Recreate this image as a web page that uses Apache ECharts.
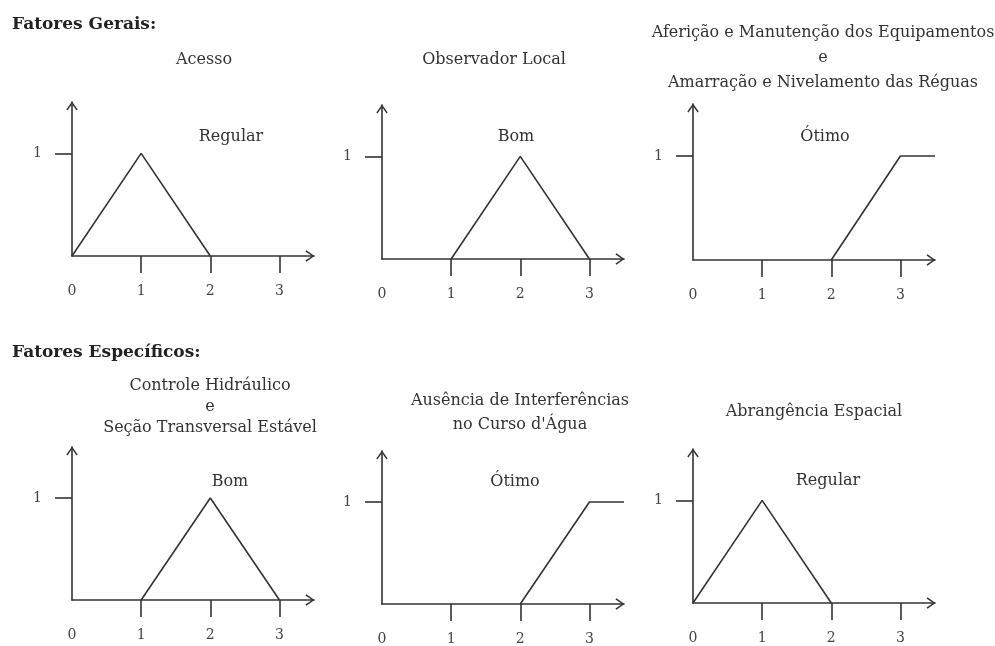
<!DOCTYPE html>
<html>
<head>
<meta charset="utf-8">
<script src="https://cdn.jsdelivr.net/npm/echarts@6/dist/echarts.min.js"></script>
<style>html,body{margin:0;padding:0;background:#fff}#c{width:995px;height:646px}</style>
</head>
<body>
<div id="c"></div>
<script>
// ---- data ----
var sectionTitles = ['Fatores Gerais:', 'Fatores Específicos:'];
var chartTitles = [
  'Acesso',
  'Observador Local',
  'Aferição e Manutenção dos Equipamentos\ne\nAmarração e Nivelamento das Réguas',
  'Controle Hidráulico\ne\nSeção Transversal Estável',
  'Ausência de Interferências\nno Curso d\'Água',
  'Abrangência Espacial'
];
var termNames = ['Regular', 'Bom', 'Ótimo', 'Bom', 'Ótimo', 'Regular'];
var regularX = [0, 1, 2];
var regularY = [0, 1, 0];
var bomX = [1, 2, 3];
var bomY = [0, 1, 0];
var otimoX = [2, 3, 3.5];
var otimoY = [0, 1, 1];
var xTickValues = [1, 2, 3];
var xLabelValues = [0, 1, 2, 3];
var yTickValues = [1];
var yLabelValues = [1];

// ---- layout ----
var FONT = 'DejaVu Serif';
var INK = '#333';
var seriesX = [regularX, bomX, otimoX, bomX, otimoX, regularX];
var seriesY = [regularY, bomY, otimoY, bomY, otimoY, regularY];
var grids = [
  {left: 72, top: 102, width: 242, height: 154},
  {left: 382, top: 105, width: 242, height: 154},
  {left: 693, top: 104, width: 242, height: 156},
  {left: 72, top: 447, width: 242, height: 153},
  {left: 382, top: 451, width: 242, height: 154},
  {left: 693, top: 449, width: 242, height: 154}
];
var titlePos = [
  {x: 204, y: 60, lh: 24},
  {x: 494, y: 60, lh: 24},
  {x: 823, y: 58, lh: 25},
  {x: 210, y: 407, lh: 21},
  {x: 520, y: 413, lh: 24},
  {x: 814, y: 412, lh: 24}
];
var termPos = [
  {x: 231, y: 137}, {x: 516, y: 137}, {x: 825, y: 137},
  {x: 230, y: 482}, {x: 515, y: 482}, {x: 828, y: 481}
];
var chevron = 'path://M5,0 L10,7 L9,7.9 L5,2.1 L1,7.9 L0,7 Z';

var xAxes = [], yAxes = [], series = [], graphics = [];
grids.forEach(function (g, i) {
  xAxes.push({
    type: 'value', gridIndex: i, min: 0, max: 3.5,
    axisLine: {show: true, symbol: ['none', chevron], symbolSize: [12, 9], symbolOffset: [0, -4],
      lineStyle: {color: INK, width: 1.6}},
    axisTick: {show: true, customValues: xTickValues, length: 17, lineStyle: {color: INK, width: 1.6}},
    axisLabel: {show: true, customValues: xLabelValues, margin: 28, fontFamily: FONT, fontSize: 14, color: '#444'},
    splitLine: {show: false}
  });
  yAxes.push({
    type: 'value', gridIndex: i, min: 0, max: 1.5,
    axisLine: {show: true, symbol: ['none', chevron], symbolSize: [12, 9], symbolOffset: [0, -4],
      lineStyle: {color: INK, width: 1.6}},
    axisTick: {show: true, customValues: yTickValues, length: 17, lineStyle: {color: INK, width: 1.6}},
    axisLabel: {show: true, customValues: yLabelValues, margin: 30, fontFamily: FONT, fontSize: 14, color: '#444'},
    splitLine: {show: false}
  });
  var pts = seriesX[i].map(function (x, k) { return [x, seriesY[i][k]]; });
  series.push({
    type: 'line', xAxisIndex: i, yAxisIndex: i, data: pts, symbol: 'none',
    lineStyle: {color: INK, width: 1.6}, silent: true
  });
  graphics.push({
    type: 'text', x: titlePos[i].x, y: titlePos[i].y,
    style: {text: chartTitles[i], fontFamily: FONT, fontSize: 16, fill: INK,
      textAlign: 'center', textVerticalAlign: 'middle', lineHeight: titlePos[i].lh}
  });
  graphics.push({
    type: 'text', x: termPos[i].x, y: termPos[i].y,
    style: {text: termNames[i], fontFamily: FONT, fontSize: 16, fill: INK,
      textAlign: 'center', textVerticalAlign: 'middle'}
  });
});
graphics.push({type: 'text', x: 12, y: 25,
  style: {text: sectionTitles[0], fontFamily: FONT, fontSize: 17, fontWeight: 'bold', fill: '#222',
    textAlign: 'left', textVerticalAlign: 'middle'}});
graphics.push({type: 'text', x: 12, y: 353,
  style: {text: sectionTitles[1], fontFamily: FONT, fontSize: 17, fontWeight: 'bold', fill: '#222',
    textAlign: 'left', textVerticalAlign: 'middle'}});

var chart = echarts.init(document.getElementById('c'));
chart.setOption({
  animation: false,
  backgroundColor: '#fff',
  grid: grids,
  xAxis: xAxes,
  yAxis: yAxes,
  series: series,
  graphic: graphics
});
</script>
</body>
</html>
